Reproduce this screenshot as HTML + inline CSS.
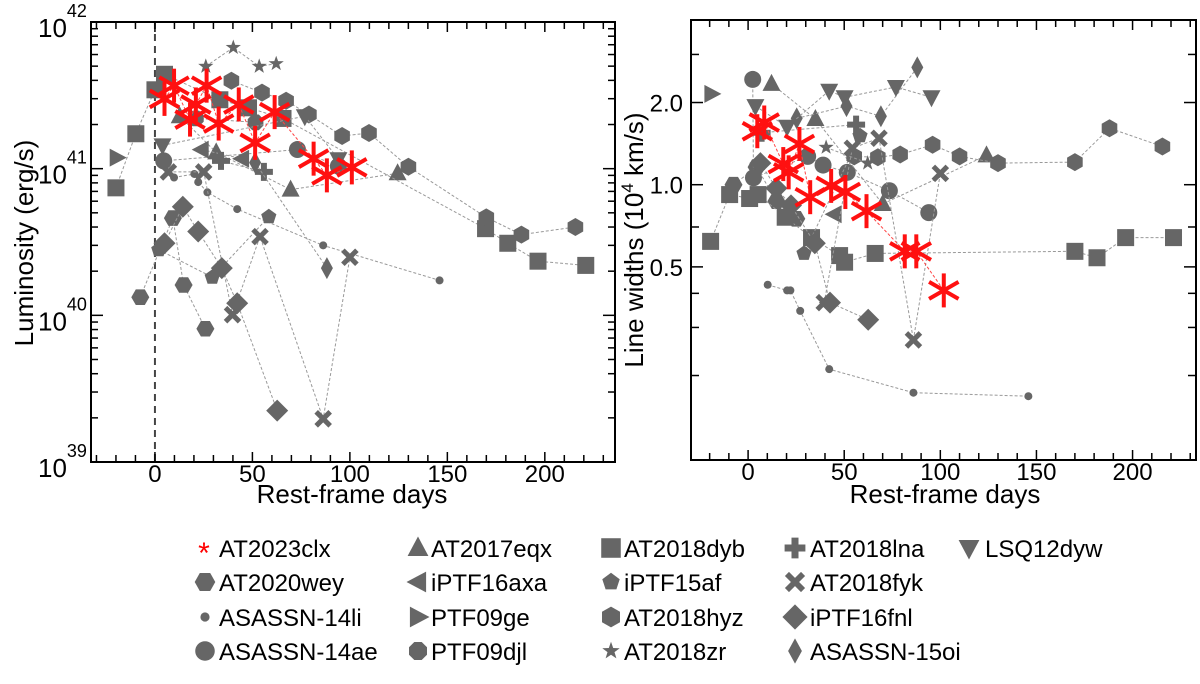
<!DOCTYPE html>
<html><head><meta charset="utf-8">
<style>
html,body{margin:0;padding:0;background:#fff;}
svg{display:block;font-family:"Liberation Sans",sans-serif;}
</style></head>
<body>
<svg id="fig" width="1200" height="684" viewBox="0 0 1200 684"></svg>
<script>
// ---- Data (day, value) ----
// Left panel: luminosity (erg/s)
const lumAT2023clx=[[4.9,2.99e41],[9.8,3.68e41],[18,2.16e41],[21,2.74e41],[26.5,3.68e41],[32.7,2.03e41],[43,2.74e41],[51.4,1.5e41],[61.4,2.43e41],[81.4,1.17e41],[88.2,9.0e40],[101,1.02e41]];
const lumAT2018dyb=[[-20,7.4e40],[-9.8,1.73e41],[0,3.45e41],[4.9,4.4e41],[33.3,2.95e41],[48,2.6e41],[65.7,2.2e41],[169.6,3.9e40],[181,3.1e40],[196.5,2.34e40],[221,2.19e40]];
const lumAT2018hyz=[[39.2,3.98e41],[54.9,3.3e41],[67.3,2.9e41],[79,2.34e41],[96,1.67e41],[109.8,1.75e41],[130,1.03e41],[170,4.65e40],[188,3.55e40],[215.7,4.0e40]];
const lumAT2020wey=[[-7.5,1.33e40],[9.2,4.6e40],[14.7,1.61e40],[25.9,8.1e39]];
const lumiPTF15af=[[2,2.8e40],[29.4,1.82e40],[58.4,4.7e40]];
const lumiPTF16fnl=[[4.9,3.1e40],[14.3,5.5e40],[22.2,3.73e40],[34.3,2.1e40],[42.2,1.21e40],[62.7,2.24e39]];
const lumASASSN15oi=[[51.4,1.1e41],[88.2,2.1e40]];
const lumAT2018fyk=[[6.9,9.5e40],[25,9.5e40],[39.8,1.01e40],[53.9,3.44e40],[86.3,1.97e39],[100,2.49e40]];
const lumASASSN14li=[[9.8,8.7e40],[20.2,9.2e40],[22.2,8.1e40],[26.9,6.9e40],[42.2,5.3e40],[86.3,3.0e40],[146,1.73e40]];
const lumASASSN14ae=[[4.5,1.13e41],[73.1,1.35e41],[94.1,1.04e41]];
const lumAT2017eqx=[[12.7,2.28e41],[31.4,1.29e41],[69.6,7.2e40],[124.5,9.3e40]];
const lumAT2018lna=[[33.9,1.13e41],[55.9,9.5e40]];
const lumLSQ12dyw=[[3.9,1.44e41],[76.9,2.28e41],[94.1,1.16e41]];
const lumiPTF16axa=[[44.7,1.17e41],[24,1.35e41]];
const lumPTF09ge=[[-19.6,1.19e41]];
const lumAT2018zr=[[26.1,4.98e41],[40.2,6.7e41],[53.5,4.98e41],[62.2,5.2e41]];
const lumPTF09djl=[[51.6,2.07e41],[21,2.2e41]];
// Right panel: line widths (1e4 km/s)
const wAT2023clx=[[4.8,1.57],[8.4,1.69],[18.3,1.19],[21.1,1.11],[26.7,1.41],[32.3,0.90],[43.2,0.99],[50.6,0.94],[61.6,0.80],[81.5,0.57],[87.5,0.57],[101.8,0.41]];
const wPTF09ge=[[-19.1,2.15]];
const wASASSN14ae=[[2.4,2.43],[2.8,1.06],[31,1.27],[39,1.18],[51.6,1.11],[73.5,0.95],[94,0.79]];
const wAT2017eqx=[[12.2,2.34],[35,1.74],[70,0.85],[124,1.28]];
const wLSQ12dyw=[[3.8,1.94],[20.3,1.63],[42.2,2.21],[50.2,2.09],[76.9,2.28],[95.4,2.09]];
const wASASSN15oi=[[25.3,1.75],[51.2,1.94],[69.1,1.78],[88,2.69]];
const wAT2018lna=[[56.2,1.66],[7,1.55]];
const wAT2018zr=[[40.6,1.37],[62.2,1.20]];
const wiPTF15af=[[58.2,1.51],[29.1,0.56]];
const wAT2018fyk=[[54.2,1.36],[68.1,1.48],[39.6,0.37],[86,0.27],[100,1.10]];
const wAT2018hyz=[[55.2,1.27],[67.5,1.26],[79.1,1.29],[96,1.40],[110,1.27],[130,1.20],[170,1.21],[188,1.61],[215.5,1.38]];
const wAT2020wey=[[-7.6,1.0],[4.4,1.16],[14.7,0.87],[25.1,0.75]];
const wAT2018dyb=[[-19.5,0.62],[-9.6,0.92],[0.8,0.89],[5.2,0.92],[19.3,0.76],[33,0.64],[47.6,0.55],[50.2,0.52],[66.1,0.56],[170,0.57],[181.5,0.54],[196.4,0.64],[221.3,0.64]];
const wiPTF16fnl=[[6.4,1.2],[14.7,0.97],[22.3,0.84],[34.7,0.61],[42.6,0.37],[62.5,0.32]];
const wASASSN14li=[[10.2,0.43],[20.3,0.41],[22,0.41],[27.1,0.345],[42.2,0.211],[86,0.173],[145.8,0.168]];
const wiPTF16axa=[[45,0.78]];
const xTicks=[0,50,100,150,200];
const wTickLabels=["0.5","1.0","2.0"];
const wTickValues=[0.5,1.0,2.0];

const objects=[
 ["AT2020wey","hexh",lumAT2020wey,wAT2020wey],
 ["ASASSN-14li","dot",lumASASSN14li,wASASSN14li],
 ["ASASSN-14ae","circle",lumASASSN14ae,wASASSN14ae],
 ["AT2017eqx","tri",lumAT2017eqx,wAT2017eqx],
 ["iPTF16axa","trileft",lumiPTF16axa,wiPTF16axa],
 ["PTF09ge","triright",lumPTF09ge,wPTF09ge],
 ["PTF09djl","oct",lumPTF09djl,[]],
 ["AT2018dyb","square",lumAT2018dyb,wAT2018dyb],
 ["iPTF15af","pent",lumiPTF15af,wiPTF15af],
 ["AT2018hyz","hexv",lumAT2018hyz,wAT2018hyz],
 ["AT2018zr","star",lumAT2018zr,wAT2018zr],
 ["AT2018lna","plus",lumAT2018lna,wAT2018lna],
 ["AT2018fyk","x",lumAT2018fyk,wAT2018fyk],
 ["iPTF16fnl","diamond",lumiPTF16fnl,wiPTF16fnl],
 ["ASASSN-15oi","thindiamond",lumASASSN15oi,wASASSN15oi],
 ["LSQ12dyw","tridown",lumLSQ12dyw,wLSQ12dyw]
];

const NS="http://www.w3.org/2000/svg";
const svg=document.getElementById('fig');
function el(tag,attrs,parent){const e=document.createElementNS(NS,tag);for(const k in attrs)e.setAttribute(k,attrs[k]);(parent||svg).appendChild(e);return e;}
const G="#666";

const L={x0:91,x1:615,y0:22,y1:462,dmin:-32.8,dmax:236};
const R={x0:691,x1:1196,y0:20,y1:460,dmin:-29.7,dmax:233};
function lx(d){return L.x0+(d-L.dmin)/(L.dmax-L.dmin)*(L.x1-L.x0);}
function ly(v){return L.y0+(42-Math.log10(v))*(L.y1-L.y0)/3;}
function rx(d){return R.x0+(d-R.dmin)/(R.dmax-R.dmin)*(R.x1-R.x0);}
function ry(v){return 184.7-273*Math.log10(v);}

function marker(type,cx,cy,parent,s){
 s=s||1;let e;
 const poly=(pts)=>el('polygon',{points:pts.map(p=>(cx+p[0]).toFixed(1)+','+(cy+p[1]).toFixed(1)).join(' '),fill:G},parent);
 const reg=(n,rr,rot)=>{const p=[];for(let i=0;i<n;i++){const a=rot+i*2*Math.PI/n;p.push([rr*Math.cos(a),rr*Math.sin(a)]);}return poly(p);};
 switch(type){
  case 'square':e=el('rect',{x:cx-8.5*s,y:cy-8.5*s,width:17*s,height:17*s,fill:G},parent);break;
  case 'circle':e=el('circle',{cx:cx,cy:cy,r:8.5*s,fill:G},parent);break;
  case 'dot':e=el('circle',{cx:cx,cy:cy,r:4*s,fill:G},parent);break;
  case 'hexh':e=reg(6,9*s,0);break;
  case 'hexv':e=reg(6,9*s,Math.PI/2);break;
  case 'oct':e=reg(8,8.5*s,Math.PI/8);break;
  case 'pent':e=reg(5,8*s,-Math.PI/2);break;
  case 'tri':e=poly([[0,-10*s],[9*s,7*s],[-9*s,7*s]]);break;
  case 'tridown':e=poly([[0,10*s],[9*s,-7*s],[-9*s,-7*s]]);break;
  case 'trileft':e=poly([[-10*s,0],[7*s,-9*s],[7*s,9*s]]);break;
  case 'triright':e=poly([[10*s,0],[-7*s,-9*s],[-7*s,9*s]]);break;
  case 'diamond':e=poly([[0,-11*s],[11*s,0],[0,11*s],[-11*s,0]]);break;
  case 'thindiamond':e=poly([[0,-11*s],[6*s,0],[0,11*s],[-6*s,0]]);break;
  case 'plus':e=poly([[-3*s,-9*s],[3*s,-9*s],[3*s,-3*s],[9*s,-3*s],[9*s,3*s],[3*s,3*s],[3*s,9*s],[-3*s,9*s],[-3*s,3*s],[-9*s,3*s],[-9*s,-3*s],[-3*s,-3*s]]);break;
  case 'x':{const g=el('g',{},parent);el('line',{x1:cx-7*s,y1:cy-7*s,x2:cx+7*s,y2:cy+7*s,stroke:G,'stroke-width':5*s},g);el('line',{x1:cx-7*s,y1:cy+7*s,x2:cx+7*s,y2:cy-7*s,stroke:G,'stroke-width':5*s},g);e=g;break;}
  case 'star':{const p=[];for(let i=0;i<10;i++){const a=-Math.PI/2+i*Math.PI/5;const rr=i%2?3.2*s:8*s;p.push([rr*Math.cos(a),rr*Math.sin(a)]);}e=poly(p);break;}
  case 'ast':{const g=el('g',{},parent);const rr=17*s;for(let i=0;i<3;i++){const a=Math.PI/2+i*Math.PI/3;el('line',{x1:cx-rr*Math.cos(a),y1:cy-rr*Math.sin(a),x2:cx+rr*Math.cos(a),y2:cy+rr*Math.sin(a),stroke:'#ff1010','stroke-width':4*s},g);}e=g;break;}
 }
 return e;
}

function drawSeries(pts,fx,fy,type,name,parent,red){
 const sorted=pts.slice().sort((a,b)=>a[0]-b[0]);
 if(sorted.length>1){
  const pl=el('polyline',{points:sorted.map(p=>fx(p[0]).toFixed(1)+','+fy(p[1]).toFixed(1)).join(' '),fill:'none',stroke:red?'#f44':'#999','stroke-width':1,'stroke-dasharray':'3,2'},parent);
  
  
 }
 pts.forEach(p=>{
  const m=marker(red?'ast':type,fx(p[0]),fy(p[1]),parent,1);
  
  
 });
}

function frame(P,name){
 const f=el('rect',{x:P.x0,y:P.y0,width:P.x1-P.x0,height:P.y1-P.y0,fill:'none',stroke:'#000','stroke-width':2});
 
 
}

// ---- Left panel ----
const gl=el('g',{});


const vline=el('line',{x1:lx(0),y1:L.y0,x2:lx(0),y2:L.y1,stroke:'#444','stroke-width':2,'stroke-dasharray':'7,5'},gl);


objects.forEach(o=>drawSeries(o[2],lx,ly,o[1],'lum-'+o[0].toLowerCase(),gl,false));
drawSeries(lumAT2023clx,lx,ly,'ast','lum-at2023clx',gl,true);
frame(L,'luminosity');
for(let d=-30;d<=230;d+=10){const X=lx(d);const len=d%50===0?10:7;
 el('line',{x1:X,y1:L.y1,x2:X,y2:L.y1-len,stroke:'#000','stroke-width':1.5});
 el('line',{x1:X,y1:L.y0,x2:X,y2:L.y0+len,stroke:'#000','stroke-width':1.5});}
xTicks.forEach(d=>{const t=el('text',{x:lx(d),y:L.y1+20,'font-size':24,'text-anchor':'middle'});t.textContent=d;
 });
for(let e=39;e<42;e++){for(let k=1;k<10;k++){const Y=ly(k*Math.pow(10,e));const len=k===1?12:7;
 el('line',{x1:L.x0,y1:Y,x2:L.x0+len,y2:Y,stroke:'#000','stroke-width':1.5});
 el('line',{x1:L.x1,y1:Y,x2:L.x1-len,y2:Y,stroke:'#000','stroke-width':1.5});}}
[39,40,41,42].forEach(e=>{const t=el('text',{x:38,y:ly(Math.pow(10,e))+15,'font-size':26});
 t.innerHTML='10<tspan dy="-20" font-size="18">'+e+'</tspan>';
 });
{const t=el('text',{x:0,y:0,'font-size':26,'text-anchor':'middle',transform:'translate(33,243) rotate(-90)'});t.textContent='Luminosity (erg/s)';
 }
{const t=el('text',{x:352,y:503,'font-size':26,'text-anchor':'middle'});t.textContent='Rest-frame days';
 }

// ---- Right panel ----
const gr=el('g',{});


objects.forEach(o=>drawSeries(o[3],rx,ry,o[1],'width-'+o[0].toLowerCase(),gr,false));
drawSeries(wAT2023clx,rx,ry,'ast','width-at2023clx',gr,true);
frame(R,'line-width');
for(let d=-20;d<=230;d+=10){const X=rx(d);const len=d%50===0?10:7;
 el('line',{x1:X,y1:R.y1,x2:X,y2:R.y1-len,stroke:'#000','stroke-width':1.5});
 el('line',{x1:X,y1:R.y0,x2:X,y2:R.y0+len,stroke:'#000','stroke-width':1.5});}
xTicks.forEach(d=>{const t=el('text',{x:rx(d),y:R.y1+20,'font-size':24,'text-anchor':'middle'});t.textContent=d;
 });
[0.2,0.3,0.4,0.7,3].forEach(v=>{const Y=ry(v);
 el('line',{x1:R.x0,y1:Y,x2:R.x0+8,y2:Y,stroke:'#000','stroke-width':1.5});
 el('line',{x1:R.x1,y1:Y,x2:R.x1-8,y2:Y,stroke:'#000','stroke-width':1.5});});
wTickValues.forEach((v,i)=>{const Y=ry(v);
 el('line',{x1:R.x0,y1:Y,x2:R.x0+12,y2:Y,stroke:'#000','stroke-width':1.5});
 el('line',{x1:R.x1,y1:Y,x2:R.x1-12,y2:Y,stroke:'#000','stroke-width':1.5});
 const t=el('text',{x:R.x0-8,y:Y+9,'font-size':24,'text-anchor':'end'});t.textContent=wTickLabels[i];
 });
{const t=el('text',{x:0,y:0,'font-size':26,'text-anchor':'middle',transform:'translate(643,240) rotate(-90)'});
 t.innerHTML='Line widths (10<tspan dy="-10" font-size="17">4</tspan><tspan dy="10"> km/s)</tspan>';
 }
{const t=el('text',{x:945,y:503,'font-size':26,'text-anchor':'middle'});t.textContent='Rest-frame days';
 }

// ---- Legend ----
const leg=el('g',{});


const legendNames=[["AT2023clx","AT2020wey","ASASSN-14li","ASASSN-14ae"],["AT2017eqx","iPTF16axa","PTF09ge","PTF09djl"],["AT2018dyb","iPTF15af","AT2018hyz","AT2018zr"],["AT2018lna","AT2018fyk","iPTF16fnl","ASASSN-15oi"],["LSQ12dyw"]];
const colMX=[205,418,611,795,969], colTX=[219,431,624,810,985], rowY=[548,582,617,651];
legendNames.forEach((col,ci)=>col.forEach((nm,ri)=>{
 const g=el('g',{},leg);
 
 
 const o=objects.find(q=>q[0]===nm);
 const cy=rowY[ri];
 if(nm==='AT2023clx'){const t=el('text',{x:colMX[ci]-1,y:cy+15,'font-size':30,fill:'#f00','text-anchor':'middle'},g);t.textContent='*';}
 else marker(o[1],colMX[ci],cy,g,1.15);
 const t=el('text',{x:colTX[ci],y:cy+9,'font-size':24},g);t.textContent=nm;
}));
</script>
</body></html>
